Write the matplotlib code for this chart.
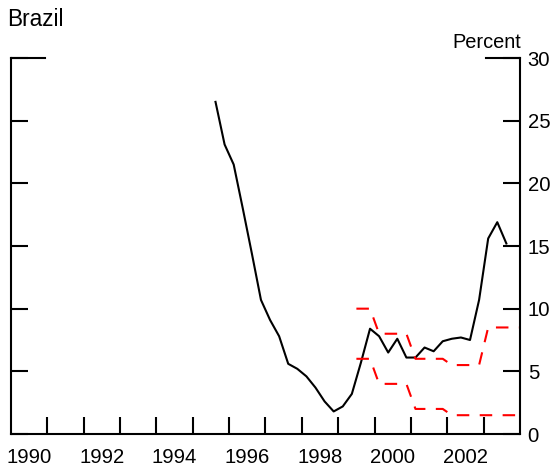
import matplotlib
matplotlib.use("Agg")
import matplotlib.pyplot as plt

plt.rcParams['font.family'] = ['Liberation Sans', 'DejaVu Sans']

# CPI inflation, 12-month percent change, quarterly
quarters = ['1995Q3', '1995Q4',
            '1996Q1', '1996Q2', '1996Q3', '1996Q4',
            '1997Q1', '1997Q2', '1997Q3', '1997Q4',
            '1998Q1', '1998Q2', '1998Q3', '1998Q4',
            '1999Q1', '1999Q2', '1999Q3', '1999Q4',
            '2000Q1', '2000Q2', '2000Q3', '2000Q4',
            '2001Q1', '2001Q2', '2001Q3', '2001Q4',
            '2002Q1', '2002Q2', '2002Q3', '2002Q4',
            '2003Q1', '2003Q2', '2003Q3']
inflation = [26.5, 23.1,
             21.5, 18.0, 14.4, 10.7,
             9.1, 7.8, 5.6, 5.2,
             4.6, 3.7, 2.6, 1.8,
             2.2, 3.2, 5.7, 8.4,
             7.8, 6.5, 7.6, 6.1,
             6.1, 6.9, 6.6, 7.4,
             7.6, 7.7, 7.5, 10.7,
             15.6, 16.9, 15.2]

# inflation target band
target_x = [1999.5, 1999.875, 2000.125, 2000.875, 2001.125,
            2001.875, 2002.125, 2002.875, 2003.125, 2004.0]
target_upper = [10, 10, 8, 8, 6, 6, 5.5, 5.5, 8.5, 8.5]
target_lower = [6, 6, 4, 4, 2, 2, 1.5, 1.5, 1.5, 1.5]

year_labels = ['1990', '1992', '1994', '1996', '1998', '2000', '2002']
year_ticks = list(range(1991, 2004))
y_ticks = [0, 5, 10, 15, 20, 25, 30]

qx = [int(q[:4]) + (int(q[-1]) - 0.5) / 4 for q in quarters]

fig = plt.figure(figsize=(5.5, 4.68), dpi=100)
ax = fig.add_axes([11 / 550, 34 / 468, 509 / 550, 376 / 468])

ax.plot(qx, inflation, color='black', lw=1.5)
ax.plot(target_x, target_upper, color='#ff0000', lw=1.5, dashes=[6, 5])
ax.plot(target_x, target_lower, color='#ff0000', lw=1.5, dashes=[6, 5])

ax.set_xlim(1990, 2004)
ax.set_ylim(0, 30)

ax.spines['top'].set_visible(False)
for s in ['left', 'right', 'bottom']:
    ax.spines[s].set_linewidth(1.5)

# top corner brackets
ax.plot([0, 34 / 509], [1, 1], transform=ax.transAxes, color='black',
        lw=1.5, clip_on=False, solid_capstyle='projecting')
ax.plot([1 - 34 / 509, 1], [1, 1], transform=ax.transAxes, color='black',
        lw=1.5, clip_on=False, solid_capstyle='projecting')

ax.set_xticks(year_ticks)
ax.set_xticklabels([])
ax.set_xticks([float(y) + 0.5 for y in year_labels], labels=year_labels, minor=True)
ax.tick_params(axis='x', which='major', direction='in', length=12, width=1.5)
ax.tick_params(axis='x', which='minor', length=0, pad=10, labelsize=14.6)

ax.set_yticks(y_ticks)
ax.tick_params(axis='y', direction='in', length=12.2, width=1.5,
               left=True, right=True, labelleft=False, labelright=True,
               pad=5.5, labelsize=14.6)

fig.text(7 / 550, 1 - 26 / 468, 'Brazil', fontsize=16.3, va='baseline')
fig.text(521 / 550, 1 - 48 / 468, 'Percent', fontsize=14.4, ha='right', va='baseline')

fig.savefig('out.png', dpi=100)
